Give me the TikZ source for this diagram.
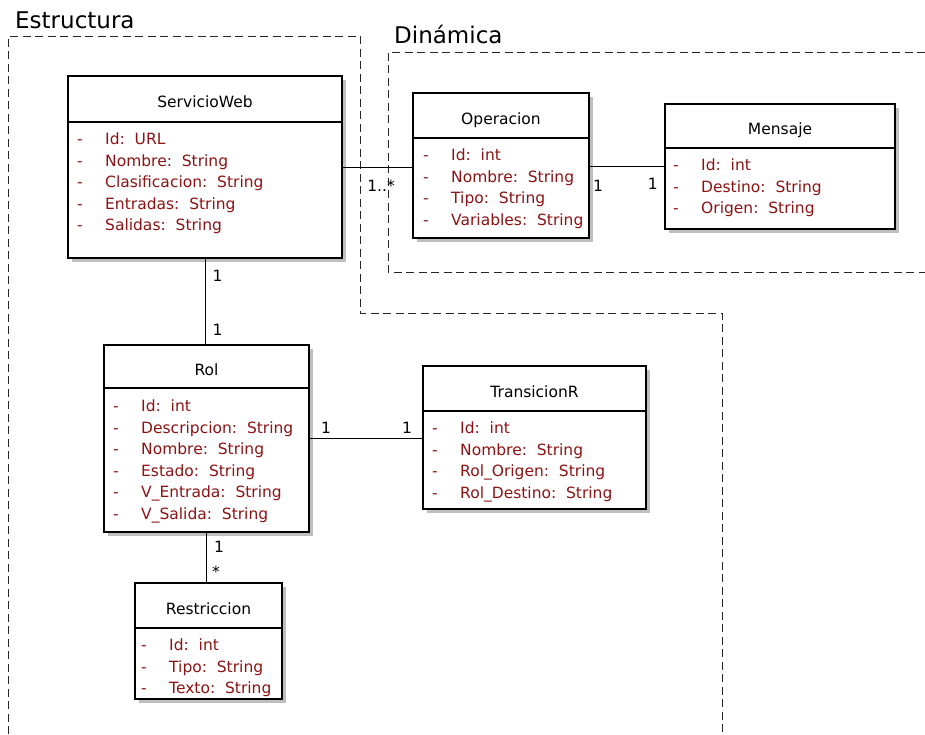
\documentclass[tikz,border=0pt]{standalone}
\usepackage{fontspec}
\setmainfont{DejaVu Sans}
\usetikzlibrary{shadows}
\definecolor{attrred}{RGB}{140,20,20}
\newcommand{\attrline}[1]{\makebox[28pt][l]{-}#1}
\tikzset{
  umlbox/.style={draw, line width=1.1pt, fill=white, outer sep=0pt, inner sep=0pt,
    drop shadow={shadow xshift=4pt, shadow yshift=-4pt, fill=black!25, opacity=1}},
  umlhead/.style={draw, line width=1.1pt, outer sep=0pt, inner sep=0pt, anchor=north,
    text height=17pt, text depth=0pt, font=\fontsize{15.5}{18}\selectfont},
  attrs/.style={anchor=north west, inner sep=0pt, align=left, text=attrred,
    font=\fontsize{15.5}{21.5}\selectfont},
  mult/.style={inner sep=0pt, font=\fontsize{15.5}{18}\selectfont},
  assoc/.style={line width=1pt},
  areaframe/.style={dash pattern=on 8pt off 4.5pt, line width=1pt, black!85},
  areatitle/.style={anchor=base west, inner sep=0pt, font=\fontsize{23}{27}\selectfont}
}
\begin{document}
\begin{tikzpicture}[x=1pt,y=-1pt]
		\useasboundingbox (0,0) rectangle (925,734);
		% areas
		\draw[areaframe] (8,734) -- (8,36) -- (360,36) -- (360,313) -- (722,313) -- (722,734);
		\draw[areaframe] (925,52) -- (388,52) -- (388,272) -- (925,272);
		\node[areatitle] (estr) at (15,28) {Estructura};
		\node[areatitle] (dina) at (394,43) {Dinámica};
		% ServicioWeb
		\node[umlbox, minimum width=274pt, minimum height=182pt] (sw) at (205,167) {};
		\node[umlhead, minimum width=274pt, minimum height=46pt] (sw-t) at (sw.north) {ServicioWeb};
		\node[attrs] (sw-a) at ([shift={(9,11)}]sw-t.south west) {\attrline{Id:\ \ URL}\\
			\attrline{Nombre:\ \ String}\\ \attrline{Clasificacion:\ \ String}\\
			\attrline{Entradas:\ \ String}\\ \attrline{Salidas:\ \ String}};
		% Operacion
		\node[umlbox, minimum width=176pt, minimum height=145pt] (op) at (501,165.5) {};
		\node[umlhead, minimum width=176pt, minimum height=45pt] (op-t) at (op.north) {Operacion};
		\node[attrs] (op-a) at ([shift={(10,11)}]op-t.south west) {\attrline{Id:\ \ int}\\
			\attrline{Nombre:\ \ String}\\ \attrline{Tipo:\ \ String}\\ \attrline{Variables:\ \ String}};
		% Mensaje
		\node[umlbox, minimum width=230pt, minimum height=125pt] (msj) at (780,166.5) {};
		\node[umlhead, minimum width=230pt, minimum height=44pt] (msj-t) at (msj.north) {Mensaje};
		\node[attrs] (msj-a) at ([shift={(8,11)}]msj-t.south west) {\attrline{Id:\ \ int}\\
			\attrline{Destino:\ \ String}\\ \attrline{Origen:\ \ String}};
		% Rol
		\node[umlbox, minimum width=205pt, minimum height=187pt] (rol) at (206.5,438.5) {};
		\node[umlhead, minimum width=205pt, minimum height=43pt] (rol-t) at (rol.north) {Rol};
		\node[attrs] (rol-a) at ([shift={(9,12)}]rol-t.south west) {\attrline{Id:\ \ int}\\
			\attrline{Descripcion:\ \ String}\\ \attrline{Nombre:\ \ String}\\
			\attrline{Estado:\ \ String}\\ \attrline{V\_Entrada:\ \ String}\\
			\attrline{V\_Salida:\ \ String}};
		% TransicionR
		\node[umlbox, minimum width=223pt, minimum height=143pt] (tr) at (534.5,437.5) {};
		\node[umlhead, minimum width=223pt, minimum height=45pt] (tr-t) at (tr.north) {TransicionR};
		\node[attrs] (tr-a) at ([shift={(9,11)}]tr-t.south west) {\attrline{Id:\ \ int}\\
			\attrline{Nombre:\ \ String}\\ \attrline{Rol\_Origen:\ \ String}\\
			\attrline{Rol\_Destino:\ \ String}};
		% Restriccion
		\node[umlbox, minimum width=147pt, minimum height=116pt] (res) at (208.5,641) {};
		\node[umlhead, minimum width=147pt, minimum height=45pt] (res-t) at (res.north) {Restriccion};
		\node[attrs] (res-a) at ([shift={(6,11)}]res-t.south west) {\attrline{Id:\ \ int}\\
			\attrline{Tipo:\ \ String}\\ \attrline{Texto:\ \ String}};
		% associations
		\draw[assoc] (sw.east) -- (sw.east -| op.west)
			node[mult, pos=0.55, below=12pt] (m1) {1..*};
		\draw[assoc] (msj.west -| op.east) -- (msj.west)
			node[mult, pos=0.12, below=13pt] (m2) {1}
			node[mult, pos=0.84, below=11pt] (m3) {1};
		\draw[assoc] (sw.south) -- (sw.south |- rol.north)
			node[mult, pos=0.2, right=7pt] (m4) {1}
			node[mult, pos=0.83, right=7pt] (m5) {1};
		\draw[assoc] (rol.east) -- (rol.east -| tr.west)
			node[mult, pos=0.15, above=5pt] (m6) {1}
			node[mult, pos=0.86, above=5pt] (m7) {1};
		\draw[assoc] (rol.south) -- (rol.south |- res.north)
			node[mult, pos=0.29, right=7pt] (m8) {1}
			node[mult, pos=0.78, right=5pt] (m9) {*};
\end{tikzpicture}
\end{document}
